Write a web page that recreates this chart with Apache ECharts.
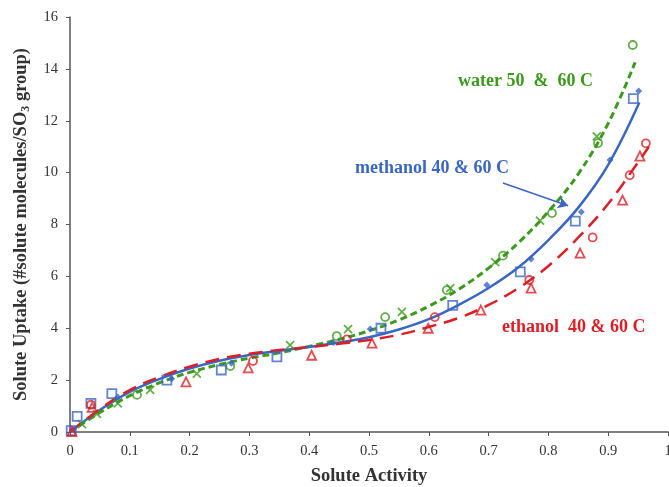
<!DOCTYPE html>
<html>
<head>
<meta charset="utf-8">
<script src="https://cdn.jsdelivr.net/npm/echarts@6/dist/echarts.min.js"></script>
<style>
  html, body { margin: 0; padding: 0; background: #fff; }
  #chart { width: 669px; height: 487px; }
</style>
</head>
<body>
<div id="chart"></div>
<script>
// fitted curves [activity, uptake]
var waterFit = [[0,0],[0.05,0.75],[0.1,1.4],[0.15,1.9],[0.2,2.3],[0.25,2.6],[0.3,2.85],[0.35,3.05],[0.4,3.3],[0.45,3.57],[0.5,3.9],[0.55,4.32],[0.6,4.85],[0.65,5.5],[0.7,6.32],[0.75,7.3],[0.8,8.5],[0.85,9.95],[0.9,11.9],[0.945,14.25]];
var methanolFit = [[0,0],[0.02,0.35],[0.05,0.85],[0.1,1.55],[0.15,2.05],[0.2,2.45],[0.25,2.75],[0.3,2.97],[0.35,3.13],[0.4,3.28],[0.45,3.45],[0.5,3.65],[0.55,3.95],[0.6,4.35],[0.65,4.9],[0.7,5.55],[0.75,6.35],[0.8,7.4],[0.85,8.65],[0.9,10.3],[0.952,12.7]];
var ethanolFit = [[0,0],[0.05,0.88],[0.1,1.62],[0.15,2.12],[0.2,2.52],[0.25,2.82],[0.3,3.02],[0.35,3.16],[0.4,3.28],[0.45,3.4],[0.5,3.55],[0.55,3.75],[0.6,4.05],[0.65,4.4],[0.7,4.9],[0.75,5.55],[0.8,6.4],[0.85,7.5],[0.9,8.8],[0.95,10.4],[0.968,11.0]];

// measured points
var waterCircles = [[0.112,1.43],[0.268,2.54],[0.446,3.7],[0.527,4.43],[0.63,5.47],[0.724,6.8],[0.806,8.44],[0.883,11.14],[0.941,14.92]];
var waterCrosses = [[0.02,0.3],[0.045,0.7],[0.08,1.1],[0.134,1.62],[0.212,2.25],[0.368,3.35],[0.465,3.97],[0.555,4.63],[0.636,5.55],[0.711,6.55],[0.786,8.15],[0.881,11.4]];
var methanolSquares = [[0.002,0.05],[0.012,0.6],[0.035,1.1],[0.07,1.48],[0.162,2.0],[0.253,2.39],[0.346,2.9],[0.52,4.0],[0.64,4.88],[0.753,6.17],[0.845,8.13],[0.942,12.85]];
var methanolDiamonds = [[0.005,0.1],[0.08,1.35],[0.17,2.05],[0.27,2.65],[0.44,3.45],[0.502,3.97],[0.697,5.67],[0.771,6.67],[0.855,8.48],[0.903,10.49],[0.951,13.15]];
var ethanolCircles = [[0.035,1.05],[0.306,2.74],[0.463,3.57],[0.61,4.43],[0.768,5.86],[0.874,7.5],[0.936,9.9],[0.963,11.13]];
var ethanolTriangles = [[0.003,0.02],[0.037,0.95],[0.194,1.93],[0.298,2.47],[0.404,2.96],[0.505,3.43],[0.599,4.0],[0.687,4.7],[0.771,5.55],[0.853,6.9],[0.924,8.94],[0.953,10.64]];

var xTicks = [0, 1];
var yTicks = [0, 16];

var GREEN = '#3c9a1c', BLUE = '#3a66c4', RED = '#dc1f26';
var SERIF = '"Liberation Serif", "DejaVu Serif", serif';
var CROSS = 'path://M0,0L10,10M10,0L0,10';

var myChart = echarts.init(document.getElementById('chart'));

function fit(data, color, type, width) {
  return {
    type: 'line', data: data, smooth: 0.4, showSymbol: false, z: 3,
    lineStyle: { color: color, width: width, type: type }
  };
}
function pts(data, symbol, size, color, filled) {
  return {
    type: 'scatter', data: data, symbol: symbol, symbolSize: size, z: 4,
    itemStyle: filled ? { color: color } : { color: 'rgba(255,255,255,0)', borderColor: color, borderWidth: 1.8 }
  };
}

var option = {
  animation: false,
  grid: { left: 70, right: 1, top: 17, bottom: 55, containLabel: false, outerBoundsMode: 'none' },
  xAxis: {
    type: 'value', min: xTicks[0], max: xTicks[1], interval: 0.1,
    name: 'Solute Activity', nameLocation: 'middle', nameGap: 35,
    nameTextStyle: { fontFamily: SERIF, fontWeight: 'bold', fontSize: 18.5, color: '#333' },
    splitLine: { show: false },
    axisLine: { lineStyle: { color: '#555', width: 1.5 } },
    axisTick: { inside: false, length: 4, lineStyle: { color: '#555' } },
    axisLabel: { fontFamily: SERIF, fontSize: 14.5, color: '#333', margin: 12,
      formatter: function (v) { return +v.toFixed(1) + ''; } }
  },
  yAxis: {
    type: 'value', min: yTicks[0], max: yTicks[1], interval: 2,
    name: '{a|Solute Uptake (#solute molecules/SO}{s|3}{a| group)}',
    nameLocation: 'middle', nameGap: 38,
    nameTextStyle: {
      rich: {
        a: { fontFamily: SERIF, fontWeight: 'bold', fontSize: 18.5, color: '#333' },
        s: { fontFamily: SERIF, fontWeight: 'bold', fontSize: 12, color: '#333', padding: [9, 0, 0, 0] }
      }
    },
    splitLine: { show: false },
    axisLine: { show: true, lineStyle: { color: '#555', width: 1.5 } },
    axisTick: { show: true, length: 4, lineStyle: { color: '#555' } },
    axisLabel: { fontFamily: SERIF, fontSize: 14.5, color: '#333', margin: 12 }
  },
  series: [
    fit(waterFit, GREEN, [7, 4], 3),
    fit(methanolFit, BLUE, 'solid', 2.5),
    fit(ethanolFit, RED, [14, 8], 2.5),
    pts(waterCircles, 'circle', 8, GREEN, false),
    pts(waterCrosses, CROSS, 8, GREEN, false),
    pts(methanolSquares, 'rect', 9, BLUE, false),
    pts(methanolDiamonds, 'diamond', 7, BLUE, true),
    pts(ethanolCircles, 'circle', 8, RED, false),
    pts(ethanolTriangles, 'triangle', 9, RED, false),
    {
      type: 'line', data: [], silent: true,
      markLine: {
        silent: true, symbol: ['none', 'arrow'], symbolSize: [9, 10], label: { show: false },
        lineStyle: { color: BLUE, width: 1.5, type: 'solid' },
        data: [[{ coord: [0.724, 9.6] }, { coord: [0.833, 8.72] }]]
      }
    }
  ],
  graphic: [
    { type: 'text', left: 458, top: 72, style: { text: 'water 50  &  60 C', fill: GREEN, font: 'bold 18px ' + SERIF } },
    { type: 'text', left: 355, top: 159, style: { text: 'methanol 40 & 60 C', fill: BLUE, font: 'bold 18px ' + SERIF } },
    { type: 'text', left: 502, top: 318, style: { text: 'ethanol  40 & 60 C', fill: RED, font: 'bold 18px ' + SERIF } }
  ]
};
myChart.setOption(option);
</script>
</body>
</html>
